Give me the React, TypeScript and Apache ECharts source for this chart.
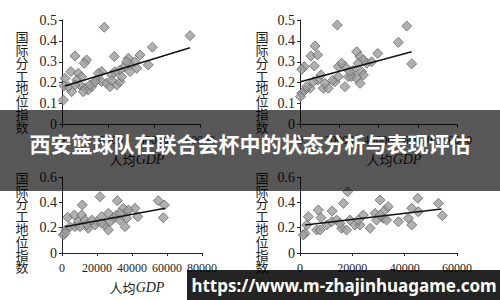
import React, { useEffect, useRef } from "react";
import * as echarts from "echarts";

// ---- data ----
const titleText = "西安篮球队在联合会杯中的状态分析与表现评估";
const watermarkText = "https://www.m-zhajinhuagame.com";
const yAxisName = "国际分工地位指数";
const xAxisNameCn = "人均";
const xAxisNameEn = "GDP";

const topLeftPoints: number[][] = [
  [18400, 0.465], [55650, 0.425], [39300, 0.37], [33900, 0.333], [22750, 0.325],
  [5650, 0.328], [10700, 0.309], [9700, 0.293], [28850, 0.317], [31700, 0.3],
  [37500, 0.285], [32500, 0.269], [29570, 0.285], [27100, 0.277], [25200, 0.26],
  [23000, 0.253], [21600, 0.237], [17250, 0.253], [15800, 0.245], [15100, 0.213],
  [17250, 0.205], [19400, 0.197], [20900, 0.181], [23800, 0.189], [25200, 0.205],
  [29570, 0.253], [3900, 0.253], [7100, 0.245], [8550, 0.229], [6400, 0.213],
  [7800, 0.189], [10000, 0.173], [11450, 0.165], [12900, 0.181], [9260, 0.157],
  [4200, 0.157], [1300, 0.221], [1000, 0.184], [600, 0.117], [2750, 0.181],
  [5650, 0.189], [12200, 0.189], [14350, 0.205], [28100, 0.3], [25950, 0.229],
  [21600, 0.21],
];
const topLeftTrend: number[][] = [[1300, 0.184], [55650, 0.367]];

const topRightPoints: number[][] = [
  [19000, 0.476], [54400, 0.471], [50100, 0.393], [56900, 0.29], [39600, 0.34],
  [7650, 0.376], [5600, 0.328], [9000, 0.333], [2200, 0.277], [850, 0.264],
  [7300, 0.28], [10700, 0.237], [9000, 0.213], [11900, 0.173], [5100, 0.173],
  [2550, 0.165], [850, 0.149], [250, 0.133], [3400, 0.181], [6800, 0.205],
  [17800, 0.205], [19500, 0.229], [19500, 0.277], [22900, 0.277], [22900, 0.181],
  [24600, 0.229], [28900, 0.348], [30600, 0.324], [32300, 0.309], [29700, 0.293],
  [34000, 0.293], [27200, 0.26], [31400, 0.253], [26300, 0.229], [28900, 0.221],
  [30600, 0.197], [32300, 0.237], [36500, 0.3], [14400, 0.173], [21200, 0.293],
  [25500, 0.253], [12700, 0.197], [16500, 0.21],
];
const topRightTrend: number[][] = [[250, 0.205], [56900, 0.348]];

const bottomLeftPoints: number[][] = [
  [21700, 0.445], [31600, 0.413], [55000, 0.413], [58500, 0.379], [57900, 0.279],
  [11600, 0.379], [3250, 0.282], [7050, 0.3], [11250, 0.3], [750, 0.142],
  [2100, 0.182], [4570, 0.208], [7430, 0.208], [9330, 0.247], [13100, 0.26],
  [15000, 0.195], [14100, 0.221], [19800, 0.247], [22700, 0.287], [24600, 0.221],
  [26500, 0.182], [26500, 0.313], [29300, 0.274], [31200, 0.3], [33100, 0.26],
  [35000, 0.353], [37000, 0.326], [36000, 0.208], [37000, 0.274], [41700, 0.353],
  [43300, 0.287], [18900, 0.221], [22700, 0.234], [27400, 0.247], [33100, 0.313],
  [37900, 0.339], [17000, 0.26], [10300, 0.208], [1700, 0.155],
];
const bottomLeftTrend: number[][] = [[1700, 0.208], [58900, 0.353]];

const bottomRightPoints: number[][] = [
  [18200, 0.484], [16600, 0.392], [30600, 0.418], [45000, 0.432], [52900, 0.392],
  [54400, 0.295], [42700, 0.353], [45200, 0.326], [3200, 0.287], [7000, 0.339],
  [8000, 0.279], [12300, 0.332], [2550, 0.221], [1900, 0.155], [1270, 0.142],
  [6370, 0.182], [7640, 0.182], [10200, 0.221], [12100, 0.247], [14000, 0.26],
  [15900, 0.195], [17800, 0.182], [19100, 0.26], [21000, 0.221], [22900, 0.221],
  [24200, 0.3], [26800, 0.195], [28700, 0.313], [29300, 0.26], [31800, 0.274],
  [32500, 0.339], [33700, 0.366], [33100, 0.26], [37600, 0.247], [41400, 0.274],
  [42700, 0.221], [15300, 0.234], [30600, 0.3], [22300, 0.26],
];
const bottomRightTrend: number[][] = [[1900, 0.221], [54100, 0.347]];

const xMaxes = [60000, 80000, 80000, 60000];
const yMaxes = [0.5, 0.5, 0.6, 0.6];
const yIntervals = [0.1, 0.1, 0.2, 0.2];

const SERIF = "'Liberation Serif', 'DejaVu Serif', serif";
const CJK = "'Noto Sans CJK SC', sans-serif";

export default function App() {
  const ref = useRef<HTMLDivElement>(null);
  useEffect(() => {
    if (!ref.current) return;
    const chart = echarts.init(ref.current, null, { renderer: "svg" });

    const grids = [
      { left: 62, top: 20, width: 138, height: 104.5 },
      { left: 300, top: 20, width: 157, height: 104.5 },
      { left: 62, top: 177, width: 140, height: 76 },
      { left: 300, top: 177, width: 157, height: 76 },
    ];
    const pointsSets = [topLeftPoints, topRightPoints, bottomLeftPoints, bottomRightPoints];
    const trendSets = [topLeftTrend, topRightTrend, bottomLeftTrend, bottomRightTrend];

    const axisLine = { show: true, lineStyle: { color: "#222", width: 1 } };
    const axisTick = { show: true, length: 3, lineStyle: { color: "#222" } };

    const xAxis = grids.map((_, i) => ({
      type: "value",
      gridIndex: i,
      min: 0,
      max: xMaxes[i],
      interval: 20000,
      axisLine,
      axisTick,
      splitLine: { show: false },
      axisLabel: {
        color: "#222",
        fontFamily: SERIF,
        fontSize: 12,
        margin: 9,
        hideOverlap: false,
        formatter: (v: number) => String(v),
      },
    }));
    const yAxis = grids.map((_, i) => ({
      type: "value",
      gridIndex: i,
      min: 0,
      max: yMaxes[i],
      interval: yIntervals[i],
      axisLine,
      axisTick,
      splitLine: { show: false },
      axisLabel: {
        color: "#222",
        fontFamily: SERIF,
        fontSize: 14,
        margin: 5,
        formatter: (v: number) => (v === 0 ? "0" : String(Math.round(v * 10) / 10)),
      },
    }));

    const series: any[] = [];
    pointsSets.forEach((pts, i) => {
      series.push({
        type: "scatter",
        xAxisIndex: i,
        yAxisIndex: i,
        data: pts,
        symbol: "diamond",
        symbolSize: 10,
        itemStyle: { color: "#9c9c9c", borderColor: "#666666", borderWidth: 1 },
      });
      series.push({
        type: "line",
        xAxisIndex: i,
        yAxisIndex: i,
        data: trendSets[i],
        symbol: "none",
        lineStyle: { color: "#111", width: 1.5 },
        z: 3,
      });
    });

    const yNamePos = [
      [22, 81.5], [262, 81.5], [22, 222], [262, 222],
    ];
    const xNamePos = [
      [137, 159], [394, 159], [137, 287], [394, 287],
    ];

    const graphic: any[] = [];
    yNamePos.forEach(([x, y]) => {
      graphic.push({
        type: "text",
        x, y,
        z: 50,
        style: {
          text: yAxisName.split("").join("\n"),
          fontFamily: CJK,
          fontSize: 13,
          lineHeight: 12.8,
          fill: "#222",
          align: "center",
          verticalAlign: "middle",
        },
      });
    });
    xNamePos.forEach(([x, y]) => {
      graphic.push({
        type: "text",
        x, y,
        z: 50,
        style: {
          text: `{a|${xAxisNameCn}}{b|${xAxisNameEn}}`,
          align: "center",
          verticalAlign: "middle",
          rich: {
            a: { fontFamily: CJK, fontSize: 13, fill: "#222" },
            b: { fontFamily: SERIF, fontStyle: "italic", fontSize: 14, fill: "#222" },
          },
        },
      });
    });
    // banner
    graphic.push({
      type: "rect", z: 100,
      shape: { x: 0, y: 110, width: 500, height: 81 },
      style: { fill: "rgba(0,0,0,0.66)" },
    });
    graphic.push({
      type: "text", x: 250, y: 143, z: 101,
      style: {
        text: titleText,
        fontFamily: CJK,
        fontWeight: "bold",
        fontSize: 21,
        fill: "#ffffff",
        align: "center",
        verticalAlign: "middle",
      },
    });
    // watermark
    graphic.push({
      type: "rect", z: 100,
      shape: { x: 187, y: 270, width: 313, height: 30 },
      style: { fill: "rgba(0,0,0,0.86)" },
    });
    graphic.push({
      type: "text", x: 344, y: 285, z: 101,
      style: {
        text: watermarkText,
        fontFamily: "'Noto Sans', 'Open Sans', sans-serif",
        fontWeight: "bold",
        fontSize: 17,
        fill: "#ffffff",
        align: "center",
        verticalAlign: "middle",
      },
    });

    chart.setOption({
      animation: false,
      backgroundColor: "#ffffff",
      grid: grids.map((g) => ({ ...g, containLabel: false })),
      xAxis,
      yAxis,
      series,
      graphic,
    });
    return () => chart.dispose();
  }, []);

  return (
    <div
      ref={ref}
      style={{ position: "fixed", left: 0, top: 0, width: 500, height: 300 }}
    />
  );
}
